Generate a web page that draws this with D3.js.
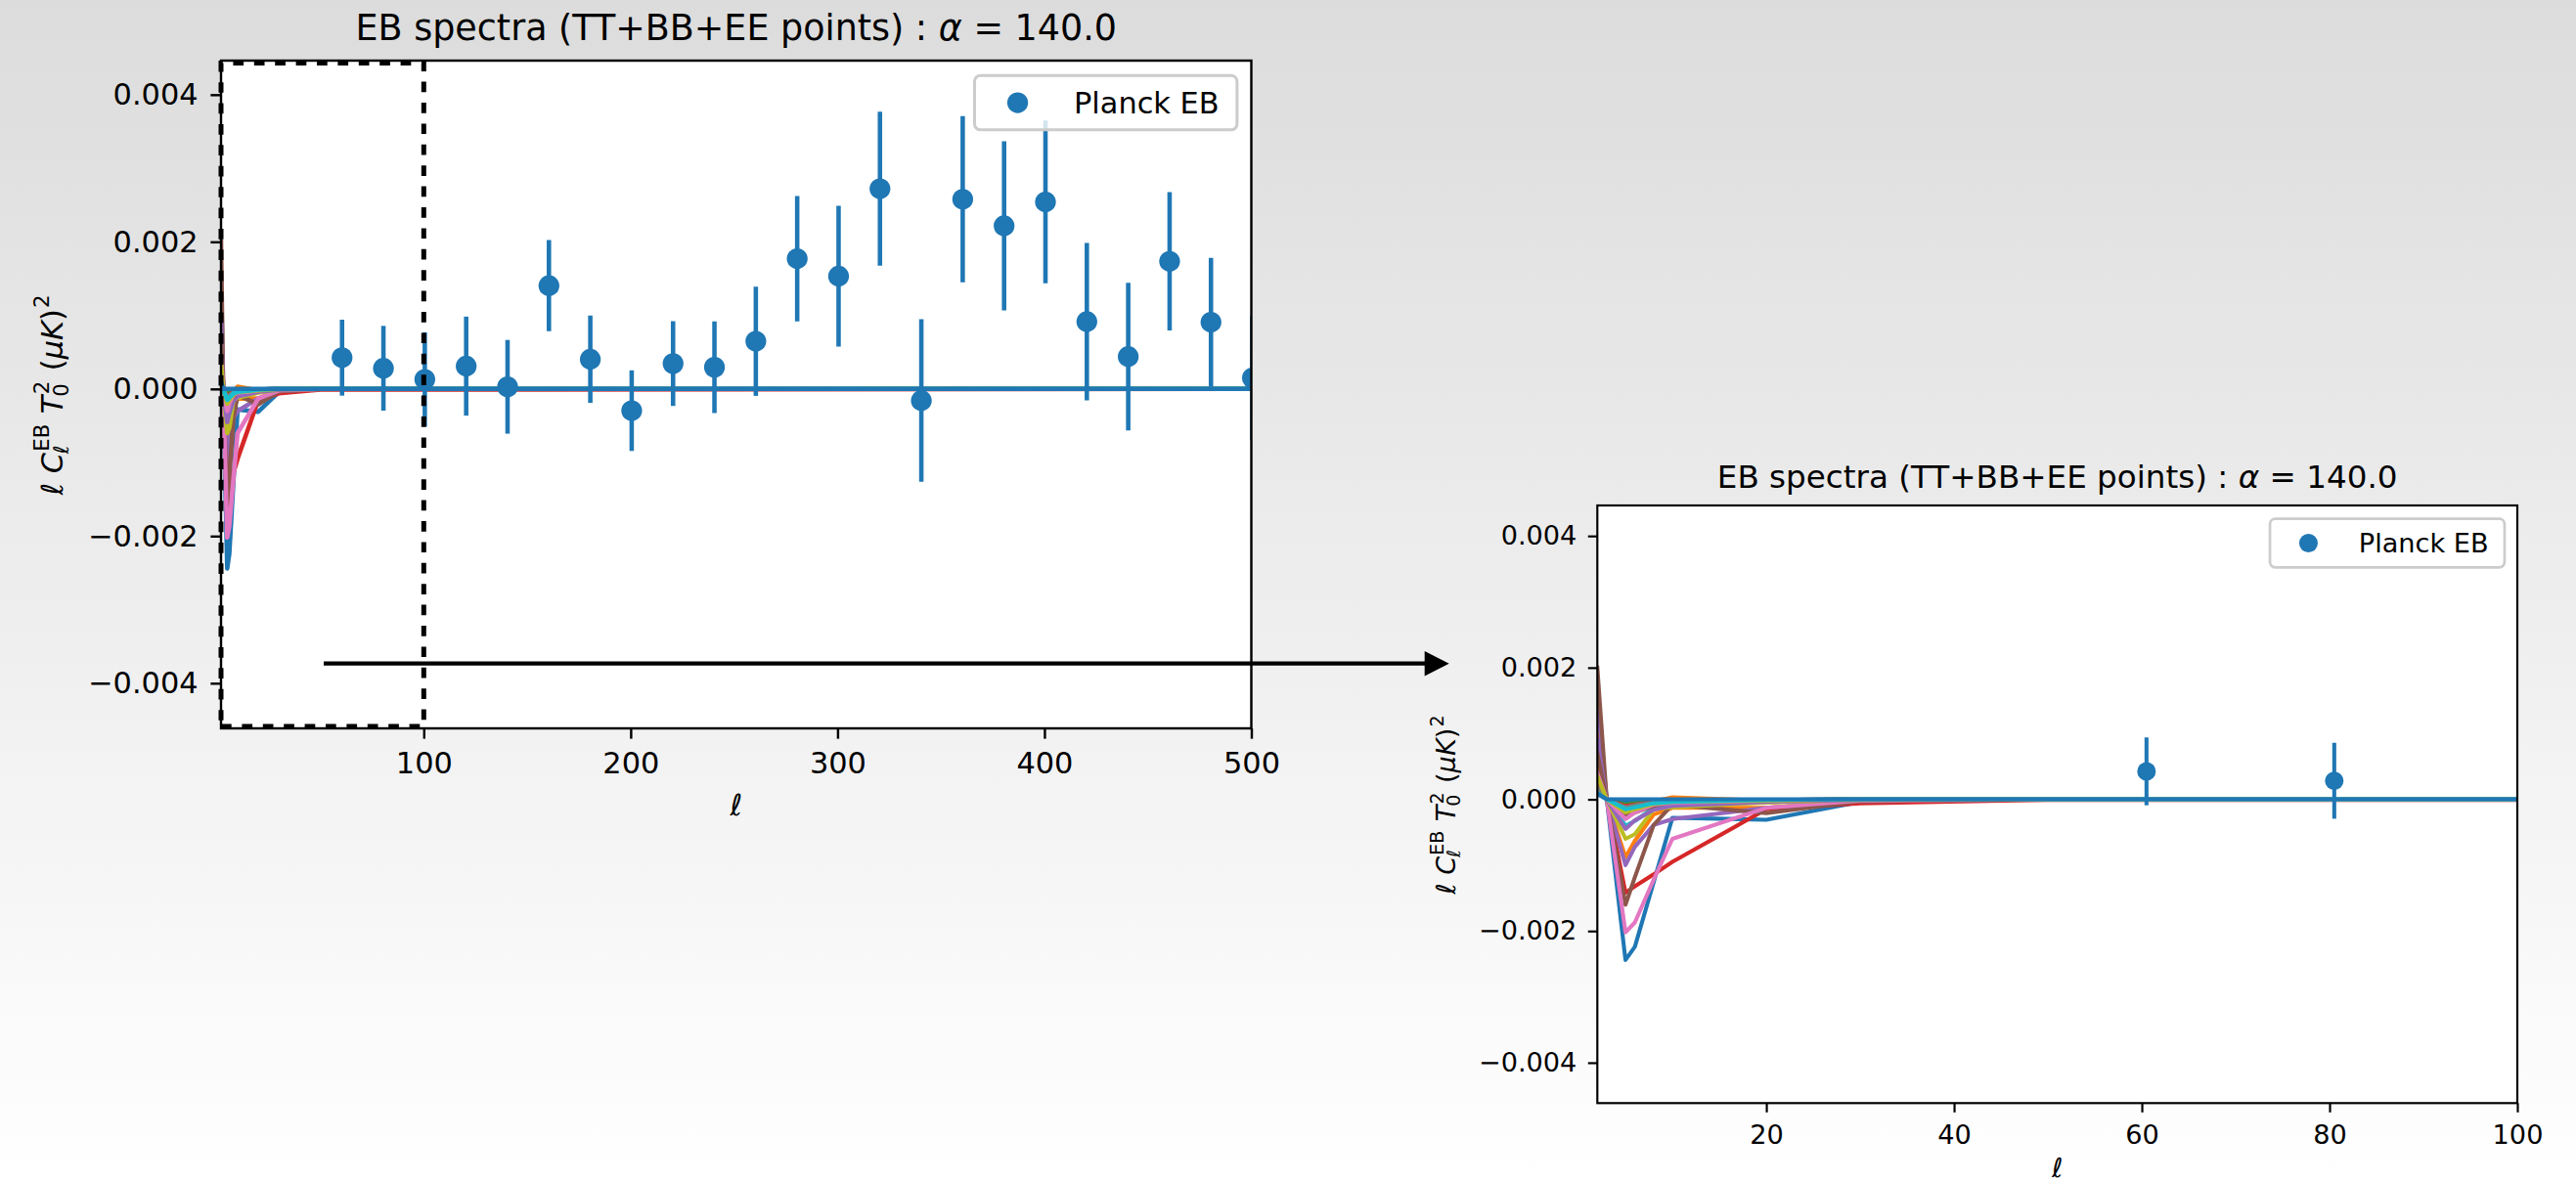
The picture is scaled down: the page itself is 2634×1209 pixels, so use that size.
<!DOCTYPE html>
<html><head><meta charset="utf-8">
<script src="https://cdn.jsdelivr.net/npm/d3@7"></script>
<style>
html,body{margin:0;padding:0;overflow:hidden;background:#fff;}
svg{display:block;font-family:"DejaVu Sans",sans-serif;}
</style>
</head><body>
<svg id="chart" width="2634" height="1209"></svg>
<script>
// ---------------- data (values in units of 1e-3 muK^2) ----------------
const UNIT = 1e-3;
const modelEll = [2, 3, 5, 6, 8, 10, 20, 30, 50, 500];
const modelCurves = [
  [0.08, 0.00, -2.44, -2.24, -1.26, -0.28, -0.31, -0.04, 0.00, 0.00],
  [1.00, 0.00, -0.88, -0.63, -0.23, -0.13, -0.13, -0.03, 0.00, 0.00],
  [0.30, 0.01, -0.15, -0.12, -0.06, -0.04, -0.02, 0.00, 0.00, 0.00],
  [0.80, 0.02, -1.42, -1.32, -1.14, -0.95, -0.15, -0.06, -0.01, 0.00],
  [1.50, 0.00, -1.00, -0.72, -0.39, -0.30, -0.13, -0.03, 0.00, 0.00],
  [2.00, 0.00, -1.60, -1.18, -0.39, -0.08, -0.21, -0.03, 0.00, 0.00],
  [0.60, 0.00, -2.02, -1.87, -1.22, -0.60, -0.13, -0.02, 0.00, 0.00],
  [0.35, 0.00, -0.22, -0.18, -0.08, -0.05, -0.03, 0.00, 0.00, 0.00],
  [0.45, 0.00, -0.60, -0.53, -0.15, -0.12, -0.05, -0.01, 0.00, 0.00],
  [0.20, 0.00, -0.40, -0.33, -0.13, -0.08, -0.03, 0.00, 0.00, 0.00],
  [0.12, 0.00, -0.05, -0.04, -0.03, -0.03, -0.01, 0.00, 0.00, 0.00],
  [0.55, 0.00, -0.28, -0.12, -0.03, 0.03, -0.02, 0.00, 0.00, 0.00],
  [0.15, 0.00, -0.08, -0.06, -0.03, -0.02, -0.01, 0.00, 0.00, 0.00],
  [0.25, 0.00, -0.10, -0.08, -0.04, -0.03, -0.01, 0.00, 0.00, 0.00],
  [0.90, 0.00, -0.45, -0.32, -0.16, -0.10, -0.04, -0.01, 0.00, 0.00],
  [0.70, 0.00, -0.25, -0.20, -0.10, -0.04, -0.02, 0.00, 0.00, 0.00],
  [0.40, 0.00, -0.30, -0.20, -0.08, -0.05, -0.02, 0.00, 0.00, 0.00],
  [0.18, 0.00, -0.12, -0.09, -0.05, -0.03, -0.01, 0.00, 0.00, 0.00],
  [0.35, 0.00, -0.20, -0.15, -0.07, -0.04, -0.02, 0.00, 0.00, 0.00],
  [0.10, 0.00, -0.15, -0.12, -0.06, -0.04, -0.01, 0.00, 0.00, 0.00],
  [0.09, 0.00, 0.00, 0.00, 0.00, 0.00, 0.00, 0.00, 0.00, 0.00]
];
const planckEll = [60.5, 80.5, 100.5, 120.5, 140.5, 160.5, 180.5, 200.5, 220.5, 240.5, 260.5, 280.5,
                   300.5, 320.5, 340.5, 360.5, 380.5, 400.5, 420.5, 440.5, 460.5, 480.5, 500.5];
const planckEB = [0.425, 0.281, 0.130, 0.310, 0.029, 1.404, 0.404, -0.295, 0.345, 0.295, 0.648, 1.771,
                  1.533, 2.721, -0.158, 2.578, 2.218, 2.542, 0.915, 0.440, 1.735, 0.907, 0.149];
const planckErr = [0.516, 0.576, 0.640, 0.673, 0.637, 0.619, 0.594, 0.548, 0.576, 0.623, 0.742, 0.853,
                   0.957, 1.047, 1.105, 1.130, 1.149, 1.106, 1.069, 1.004, 0.940, 0.875, 0.850];
const yTicks = [-0.004, -0.002, 0.000, 0.002, 0.004];
const xTicksMain = [100, 200, 300, 400, 500];
const xTicksZoom = [20, 40, 60, 80, 100];
const legendLabel = "Planck EB";
const titleMain = "EB spectra (TT+BB+EE points) : ";
const titleAlpha = "\u03b1";
const titleValue = " = 140.0";
const zoomBox = {ell: [2, 100], val: [-0.004587, 0.00443]};
const yDomain = [-0.004614, 0.004463];

// ---------------- drawing ----------------
const svg = d3.select("#chart");
const W = 2634, H = 1209;
const defs = svg.append("defs");
const grad = defs.append("linearGradient").attr("id","bg").attr("x1",0).attr("y1",0).attr("x2",0).attr("y2",1);
grad.append("stop").attr("offset","0%").attr("stop-color","#dcdcdc");
grad.append("stop").attr("offset","100%").attr("stop-color","#ffffff");
svg.append("rect").attr("width",W).attr("height",H).attr("fill","url(#bg)");

const tab10 = d3.schemeCategory10;
const fmt = d3.format(".3f");

function mathText(parent, F, items){
  const g = parent.append("g");
  let xpos = 0;
  items.forEach(it => {
    if (it.t){
      const tx = g.append("text").attr("x", xpos).attr("font-size", F)
        .attr("font-style", it.it ? "italic" : "normal").text(it.t);
      xpos += tx.node().getComputedTextLength();
    }
    if (it.sup || it.sub){
      let w = 0;
      if (it.sup){
        const t = g.append("text").attr("x", xpos + 0.04*F).attr("y", -0.44*F).attr("font-size", 0.7*F)
          .attr("font-style", it.supIt ? "italic" : "normal").text(it.sup);
        w = Math.max(w, t.node().getComputedTextLength() + 0.04*F);
      }
      if (it.sub){
        const t = g.append("text").attr("x", xpos - 0.04*F).attr("y", 0.2*F).attr("font-size", 0.7*F)
          .attr("font-style", it.subIt ? "italic" : "normal").text(it.sub);
        w = Math.max(w, t.node().getComputedTextLength() - 0.04*F);
      }
      xpos += w + 0.03*F;
    }
  });
  return {g, width: xpos};
}

function panel(cfg){
  const s = cfg.s;
  const F = 10*s;
  const x = d3.scaleLinear().domain(cfg.xDomain).range([cfg.left, cfg.right]);
  const y = d3.scaleLinear().domain(yDomain).range([cfg.bottom, cfg.top]);
  const g = svg.append("g");
  g.append("rect").attr("x",cfg.left).attr("y",cfg.top)
    .attr("width",cfg.right-cfg.left).attr("height",cfg.bottom-cfg.top).attr("fill","#fff");
  const clipId = "clip" + cfg.id;
  defs.append("clipPath").attr("id", clipId).append("rect")
    .attr("x",cfg.left).attr("y",cfg.top).attr("width",cfg.right-cfg.left).attr("height",cfg.bottom-cfg.top);
  const plot = g.append("g").attr("clip-path", `url(#${clipId})`);

  const line = d3.line().x((d,i) => x(modelEll[i])).y(d => y(d*UNIT));
  plot.selectAll("path.model").data(modelCurves).join("path").attr("class","model")
    .attr("d", d => line(d)).attr("fill","none")
    .attr("stroke", (d,i) => tab10[i % 10]).attr("stroke-width", 1.5*s)
    .attr("stroke-linejoin","round").attr("stroke-linecap","square");

  const pts = planckEll.map((l,i) => ({l, v: planckEB[i], e: planckErr[i]}));
  plot.selectAll("line.err").data(pts).join("line").attr("class","err")
    .attr("x1", d => x(d.l)).attr("x2", d => x(d.l))
    .attr("y1", d => y((d.v - d.e)*UNIT)).attr("y2", d => y((d.v + d.e)*UNIT))
    .attr("stroke", tab10[0]).attr("stroke-width", 1.5*s);
  // markers whose centre falls clearly outside the axes are culled (as the renderer does)
  const visPts = pts.filter(d => x(d.l) <= cfg.right + 2 && x(d.l) >= cfg.left - 2);
  plot.selectAll("circle.pt").data(visPts).join("circle").attr("class","pt")
    .attr("cx", d => x(d.l)).attr("cy", d => y(d.v*UNIT)).attr("r", 3.5*s)
    .attr("fill", tab10[0]);

  if (cfg.box){
    const x0 = x(zoomBox.ell[0]), x1 = x(zoomBox.ell[1]);
    const y0 = y(zoomBox.val[0]), y1 = y(zoomBox.val[1]);
    g.append("path").attr("d", `M${x0},${y0}L${x1},${y0}L${x1},${y1}L${x0},${y1}Z`)
      .attr("fill","none").attr("stroke","#000").attr("stroke-width", 5)
      .attr("stroke-dasharray","10.7 10.7");
  }

  // spines
  g.append("rect").attr("x",cfg.left).attr("y",cfg.top)
    .attr("width",cfg.right-cfg.left).attr("height",cfg.bottom-cfg.top)
    .attr("fill","none").attr("stroke","#000").attr("stroke-width",0.8*s);

  // axes
  const yAx = g.append("g").attr("transform",`translate(${cfg.left},0)`)
    .call(d3.axisLeft(y).tickValues(yTicks).tickFormat(fmt).tickSize(3.5*s).tickPadding(4.2*s));
  const xAx = g.append("g").attr("transform",`translate(0,${cfg.bottom})`)
    .call(d3.axisBottom(x).tickValues(cfg.xTicks).tickFormat(d3.format("d")).tickSize(3.5*s).tickPadding(4.6*s));
  [yAx, xAx].forEach(a => {
    a.select(".domain").remove();
    a.selectAll(".tick line").attr("stroke","#000").attr("stroke-width",0.8*s);
    a.selectAll(".tick text").attr("fill","#000").attr("font-size",F)
      .attr("font-family","DejaVu Sans");
  });

  // title
  const tt = g.append("text").attr("x",(cfg.left+cfg.right)/2).attr("y",cfg.titleY)
    .attr("text-anchor","middle").attr("font-size",12*s).attr("fill","#000");
  tt.append("tspan").text(titleMain);
  tt.append("tspan").attr("font-style","italic").text(titleAlpha);
  tt.append("tspan").text(titleValue);

  // x label
  g.append("text").attr("x",(cfg.left+cfg.right)/2).attr("y",cfg.xlabY)
    .attr("text-anchor","middle").attr("font-size",F).attr("font-style","italic").text("\u2113");

  // y label
  const yl = g.append("g").attr("transform",`translate(${cfg.ylabX},${(cfg.top+cfg.bottom)/2}) rotate(-90)`);
  const m = mathText(yl, F, [
    {t:"\u2113", it:true}, {t:"\u00a0"},
    {t:"C", it:true, sup:"EB", sub:"\u2113", subIt:true}, {t:"\u00a0"},
    {t:"T", it:true, sup:"2", sub:"0"}, {t:"\u00a0"},
    {t:"("}, {t:"\u03bcK", it:true}, {t:")", sup:"2"}
  ]);
  m.g.attr("transform",`translate(${-m.width/2},0)`);

  // legend
  const lw = 88.3*s, lh = 18.3*s;
  const lx = cfg.right - 4.8*s - lw, ly = cfg.top + 5*s;
  g.append("rect").attr("x",lx).attr("y",ly).attr("width",lw).attr("height",lh)
    .attr("rx",2*s).attr("ry",2*s).attr("fill","#fff").attr("fill-opacity",0.8)
    .attr("stroke","#cccccc").attr("stroke-width",1*s);
  g.append("circle").attr("cx",lx+14.5*s).attr("cy",ly+lh/2).attr("r",3.5*s).attr("fill",tab10[0]);
  g.append("text").attr("x",lx+33.4*s).attr("y",ly+lh/2).attr("dy","0.36em")
    .attr("font-size",F).attr("fill","#000").text(legendLabel);
}

panel({id:"main", s:3.04, left:226, right:1279.5, top:62, bottom:745, xDomain:[2,500], xTicks:xTicksMain,
       box:true, titleY:40.7, xlabY:834, ylabX:63.5});
panel({id:"zoom", s:2.717, left:1633.3, right:2574, top:517, bottom:1128.3, xDomain:[2,100], xTicks:xTicksZoom,
       box:false, titleY:498.9, xlabY:1204, ylabX:1488});

// arrow (figure-level annotation)
const ax0 = 331, ax1 = 1481.7, ay = 678.7, head = 25, hw = 12.8;
svg.append("line").attr("x1",ax0).attr("x2",ax1-head+2).attr("y1",ay).attr("y2",ay)
  .attr("stroke","#000").attr("stroke-width",4.3);
svg.append("path").attr("d",`M${ax1},${ay}L${ax1-head},${ay-hw}L${ax1-head},${ay+hw}Z`).attr("fill","#000");
</script>
</body></html>
